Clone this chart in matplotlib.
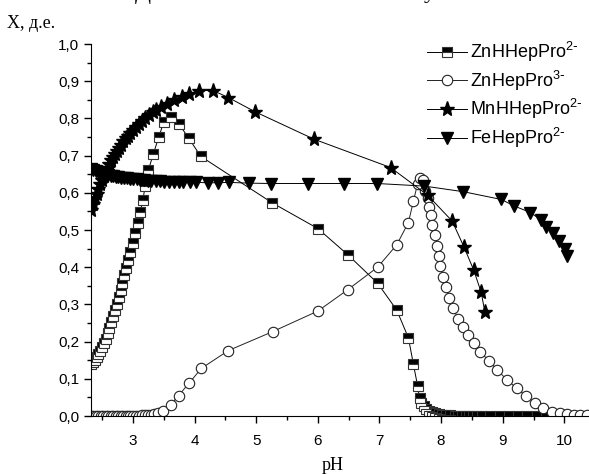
import numpy as np
import matplotlib
matplotlib.use("Agg")
import matplotlib.pyplot as plt
from matplotlib.ticker import MultipleLocator, FuncFormatter

plt.rcParams['font.family'] = ['Liberation Sans', 'DejaVu Sans']
plt.rcParams['mathtext.default'] = 'regular'

# ZnHHepPro2- (half filled squares)
ph_znh = [2.32, 2.35, 2.38, 2.41, 2.44, 2.47, 2.50, 2.53, 2.56, 2.59, 2.62, 2.65,
          2.68, 2.71, 2.74, 2.77, 2.80, 2.83, 2.86, 2.89, 2.92, 2.96, 3.00, 3.04,
          3.08, 3.12, 3.16, 3.20, 3.25, 3.33, 3.42, 3.50, 3.62, 3.75, 3.91, 4.10,
          5.26, 6.00, 6.49, 6.97, 7.28, 7.47, 7.55, 7.62, 7.65, 7.68, 7.72, 7.76,
          7.80, 7.85, 7.90, 7.96, 8.02, 8.08, 8.15, 8.22, 8.28, 8.34, 8.40, 8.46,
          8.52, 8.58, 8.66, 8.80, 8.95, 9.10, 9.25, 9.40, 9.55, 9.70, 9.85]
x_znh = [0.140, 0.145, 0.151, 0.158, 0.166, 0.175, 0.185, 0.196, 0.208, 0.222, 0.236, 0.252,
         0.268, 0.285, 0.302, 0.320, 0.338, 0.358, 0.378, 0.398, 0.420, 0.442, 0.465, 0.492,
         0.520, 0.548, 0.580, 0.618, 0.660, 0.704, 0.750, 0.790, 0.803, 0.784, 0.746, 0.698,
         0.573, 0.504, 0.433, 0.357, 0.285, 0.210, 0.140, 0.080, 0.048, 0.035, 0.026, 0.019,
         0.014, 0.010, 0.007, 0.005, 0.004, 0.003, 0.002, 0.001, 0.001, 0.001, 0.0, 0.0,
         0.0, 0.0, 0.0, 0.0, 0.0, 0.0, 0.0, 0.0, 0.0, 0.0, 0.0]

# ZnHepPro3- (open circles)
ph_zn = [2.32, 2.36, 2.40, 2.44, 2.48, 2.52, 2.56, 2.60, 2.64, 2.68, 2.72, 2.76,
         2.80, 2.84, 2.88, 2.92, 2.96, 3.00, 3.05, 3.10, 3.15, 3.20, 3.25, 3.30,
         3.35, 3.40, 3.49, 3.61, 3.74, 3.91, 4.11, 4.55, 5.27, 6.00, 6.49, 6.97,
         7.28, 7.47, 7.55, 7.62, 7.66, 7.70, 7.74, 7.78, 7.81, 7.84, 7.86, 7.90,
         7.94, 7.97, 7.99, 8.03, 8.08, 8.13, 8.20, 8.27, 8.35, 8.44, 8.53, 8.63,
         8.78, 8.91, 9.07, 9.23, 9.38, 9.53, 9.66, 9.80, 9.93, 10.04, 10.15, 10.26, 10.37]
x_zn = [0.0, 0.0, 0.0, 0.0, 0.0, 0.0, 0.0, 0.0, 0.0, 0.0, 0.0, 0.0,
        0.0, 0.0, 0.0, 0.0, 0.0, 0.001, 0.001, 0.001, 0.002, 0.002, 0.003, 0.004,
        0.005, 0.007, 0.013, 0.030, 0.055, 0.088, 0.128, 0.176, 0.227, 0.282, 0.340, 0.400,
        0.460, 0.520, 0.577, 0.625, 0.640, 0.635, 0.605, 0.585, 0.563, 0.540, 0.513, 0.487,
        0.457, 0.430, 0.403, 0.374, 0.348, 0.318, 0.290, 0.262, 0.240, 0.218, 0.195, 0.173,
        0.148, 0.124, 0.097, 0.074, 0.054, 0.034, 0.021, 0.012, 0.007, 0.005, 0.004, 0.003, 0.002]

# MnHHepPro2- (stars)
ph_mn = [2.32, 2.35, 2.38, 2.41, 2.44, 2.47, 2.50, 2.53, 2.56, 2.59, 2.62, 2.65,
         2.68, 2.71, 2.74, 2.77, 2.80, 2.84, 2.88, 2.92, 2.96, 3.00, 3.05, 3.10,
         3.15, 3.20, 3.26, 3.32, 3.38, 3.45, 3.55, 3.67, 3.79, 3.91, 4.07, 4.30,
         4.55, 4.98, 5.94, 7.18, 7.78, 8.18, 8.37, 8.53, 8.65, 8.71]
x_mn = [0.555, 0.570, 0.585, 0.598, 0.611, 0.623, 0.635, 0.646, 0.657, 0.667, 0.677, 0.687,
        0.696, 0.705, 0.713, 0.721, 0.729, 0.738, 0.746, 0.754, 0.762, 0.769, 0.777, 0.785,
        0.793, 0.800, 0.808, 0.816, 0.823, 0.831, 0.840, 0.850, 0.858, 0.866, 0.875, 0.875,
        0.856, 0.818, 0.744, 0.668, 0.594, 0.524, 0.455, 0.392, 0.333, 0.280]

# FeHepPro2- (down triangles)
ph_fe = [2.32, 2.36, 2.40, 2.44, 2.48, 2.52, 2.56, 2.60, 2.64, 2.68, 2.72, 2.76,
         2.80, 2.85, 2.90, 2.95, 3.00, 3.06, 3.12, 3.18, 3.24, 3.30, 3.37, 3.44,
         3.51, 3.58, 3.66, 3.74, 3.82, 3.93, 4.03, 4.22, 4.38, 4.56, 4.88, 5.24,
         5.84, 6.43, 6.96, 7.73, 8.36, 8.98, 9.18, 9.45, 9.62, 9.71, 9.81, 9.92,
         10.01, 10.05]
x_fe = [0.665, 0.662, 0.659, 0.656, 0.654, 0.652, 0.650, 0.648, 0.646, 0.645, 0.643, 0.642,
        0.641, 0.640, 0.639, 0.638, 0.637, 0.636, 0.635, 0.634, 0.633, 0.632, 0.631, 0.631,
        0.630, 0.630, 0.629, 0.629, 0.628, 0.628, 0.628, 0.627, 0.627, 0.628, 0.626, 0.625,
        0.625, 0.625, 0.625, 0.618, 0.603, 0.582, 0.565, 0.547, 0.527, 0.509, 0.491, 0.471,
        0.450, 0.430]

labels = [r'ZnHHepPro$^{2\text{-}}$', r'ZnHepPro$^{3\text{-}}$',
          r'MnHHepPro$^{2\text{-}}$', r'FeHepPro$^{2\text{-}}$']

fig = plt.figure(figsize=(5.89, 4.74), dpi=100)
ax = fig.add_axes([91 / 589, 1 - 416 / 474, 1 - 91 / 589, (416 - 44) / 474])

lw = 0.7
ax.plot(ph_znh, x_znh, color='black', lw=lw, marker='s', ms=6.5, fillstyle='top',
        markerfacecolor='black', markerfacecoloralt='white', markeredgecolor='#333333',
        markeredgewidth=0.8, label=labels[0])
ax.plot(ph_zn, x_zn, color='#222222', lw=lw, marker='o', ms=7.5, markerfacecolor='white',
        markeredgecolor='#222222', markeredgewidth=0.8, label=labels[1])
ax.plot(ph_mn, x_mn, color='black', lw=lw, marker='*', ms=11, markerfacecolor='black',
        markeredgecolor='black', label=labels[2])
ax.plot(ph_fe, x_fe, color='black', lw=lw, marker='v', ms=8, markerfacecolor='black',
        markeredgecolor='black', label=labels[3])

ax.set_xlim(2.32, 10.4)
ax.set_ylim(0, 1.0)
ax.spines['top'].set_visible(False)
ax.spines['right'].set_visible(False)
ax.xaxis.set_major_locator(MultipleLocator(1))
ax.xaxis.set_minor_locator(MultipleLocator(0.5))
ax.yaxis.set_major_locator(MultipleLocator(0.1))
ax.yaxis.set_minor_locator(MultipleLocator(0.05))
ax.yaxis.set_major_formatter(FuncFormatter(lambda v, p: f'{v:.1f}'.replace('.', ',')))
ax.tick_params(which='major', direction='out', length=5, width=1, labelsize=11)
ax.tick_params(which='minor', direction='out', length=3, width=1)
ax.tick_params(axis='x', pad=8)

leg = ax.legend(loc='upper right', bbox_to_anchor=(1.005, 1.035), frameon=False, fontsize=13,
                handlelength=2.2, handletextpad=0.2, labelspacing=0.25, borderaxespad=0.1)

serif = ['Liberation Serif', 'DejaVu Serif']
fig.text(7 / 589, 1 - 24 / 474, 'X, д.е.', family=serif, fontsize=13, va='center', ha='left')
fig.text(333 / 589, 1 - 466 / 474, 'pH', family=serif, fontsize=13, va='center', ha='center')
# cut-off caption at the very top
fig.text(135 / 589, 1 + 1 / 474, 'Д', family=serif, fontsize=17, va='baseline', ha='left')
fig.text(424 / 589, 1 + 2 / 474, 'у', family=serif, fontsize=17, va='baseline', ha='left')

fig.savefig('out.png', dpi=100)
